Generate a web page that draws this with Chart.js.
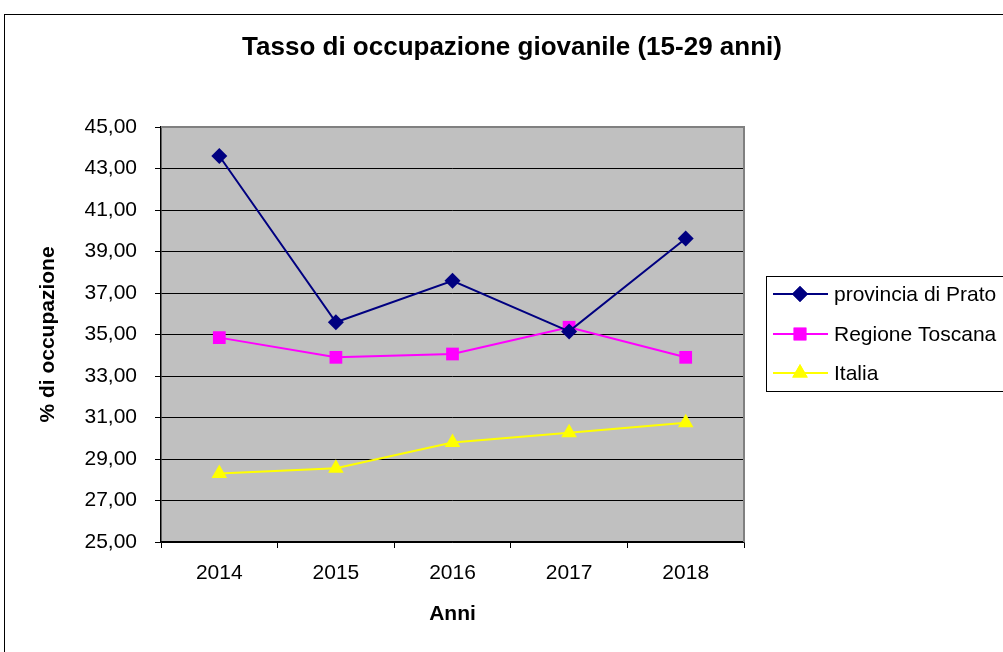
<!DOCTYPE html>
<html>
<head>
<meta charset="utf-8">
<script src="https://cdn.jsdelivr.net/npm/chart.js@4"></script>
<style>
    html, body { margin: 0; padding: 0; background: #fff; }
    #wrap { width: 1003px; height: 652px; position: relative; }
</style>
</head>
<body>
<div id="wrap"><canvas id="chart"></canvas></div>
<script>
// data
const years = ['2014', '2015', '2016', '2017', '2018'];
const prato = [43.60, 35.59, 37.59, 35.15, 39.63];
const toscana = [34.85, 33.90, 34.06, 35.35, 33.90];
const italia = [28.30, 28.55, 29.79, 30.27, 30.75];
const yTicks = [25, 27, 29, 31, 33, 35, 37, 39, 41, 43, 45];

const FONT = '"Liberation Sans", Arial, sans-serif';

const SERIES = [
    { label: 'provincia di Prato', data: prato, color: '#000080', style: 'rectRot', radius: 8 },
    { label: 'Regione Toscana', data: toscana, color: '#ff00ff', style: 'rect', radius: 9 },
    { label: 'Italia', data: italia, color: '#ffff00', style: 'triangle', radius: 9 },
];

// frame, grey plot background, title and the boxed legend
const frame = {
    id: 'frame',
    beforeDraw(chart) {
        const { ctx, chartArea: a } = chart;
        ctx.save();
        ctx.fillStyle = '#ffffff';
        ctx.fillRect(0, 0, chart.width, chart.height);
        ctx.strokeStyle = '#000';
        ctx.lineWidth = 1;
        ctx.strokeRect(4.5, 14.5, 1100, 1000);
        ctx.fillStyle = '#c0c0c0';
        ctx.fillRect(a.left, a.top, a.right - a.left, a.bottom - a.top);
        ctx.restore();
    },
    beforeDatasetsDraw(chart) {
        const { ctx, chartArea: a } = chart;
        ctx.save();
        ctx.strokeStyle = '#808080';
        ctx.lineWidth = 2;
        ctx.beginPath();
        ctx.moveTo(a.left, a.top);
        ctx.lineTo(a.right, a.top);
        ctx.lineTo(a.right, a.bottom);
        ctx.stroke();
        ctx.restore();
    },
    afterDraw(chart) {
        const ctx = chart.ctx;
        ctx.save();
        ctx.fillStyle = '#000';
        ctx.textAlign = 'center';
        ctx.textBaseline = 'middle';
        ctx.font = `bold 26px ${FONT}`;
        ctx.fillText('Tasso di occupazione giovanile (15-29 anni)', 512, 48);

        // legend box
        ctx.strokeStyle = '#000';
        ctx.lineWidth = 1;
        ctx.strokeRect(766.5, 276.5, 300, 115);
        const rows = [294, 334, 373];
        ctx.textAlign = 'left';
        ctx.font = `21px ${FONT}`;
        SERIES.forEach((s, i) => {
            const y = rows[i];
            ctx.strokeStyle = s.color;
            ctx.lineWidth = 2;
            ctx.beginPath();
            ctx.moveTo(773, y);
            ctx.lineTo(828, y);
            ctx.stroke();
            ctx.fillStyle = s.color;
            Chart.helpers.drawPoint(ctx, { pointStyle: s.style, radius: s.radius, rotation: 0, borderWidth: 0 }, 800, y);
            ctx.fill();
            ctx.fillStyle = '#000';
            ctx.fillText(s.label, 834, y + 1);
        });
        ctx.restore();
    }
};

new Chart(document.getElementById('chart'), {
    type: 'line',
    data: {
        labels: years,
        datasets: SERIES.map(s => ({
            label: s.label,
            data: s.data,
            borderColor: s.color,
            backgroundColor: s.color,
            borderWidth: 2,
            pointStyle: s.style,
            pointRadius: s.radius,
            pointBorderWidth: 0,
            pointBackgroundColor: s.color,
            tension: 0,
        }))
    },
    options: {
        responsive: true,
        maintainAspectRatio: false,
        animation: false,
        layout: { padding: { top: 127, right: 259, bottom: 0, left: 0 } },
        plugins: {
            legend: { display: false },
            title: { display: false },
            tooltip: { enabled: false }
        },
        scales: {
            x: {
                offset: true,
                afterFit: (scale) => { scale.height = 110; },
                grid: {
                    offset: true,
                    drawOnChartArea: false,
                    drawTicks: true,
                    tickLength: 6,
                    color: '#000'
                },
                border: { color: '#000', width: 1.5 },
                ticks: {
                    color: '#000',
                    padding: 13,
                    font: { family: FONT, size: 21 }
                },
                title: {
                    display: true,
                    text: 'Anni',
                    color: '#000',
                    padding: { top: 0, bottom: 25 },
                    font: { family: FONT, size: 21, weight: 'bold' }
                }
            },
            y: {
                min: 25,
                max: 45,
                afterFit: (scale) => { scale.width = 161; },
                afterBuildTicks: (scale) => { scale.ticks = yTicks.map(v => ({ value: v })); },
                grid: {
                    color: '#000',
                    lineWidth: 1,
                    tickLength: 6
                },
                border: { color: '#000', width: 1.5 },
                ticks: {
                    color: '#000',
                    padding: 18,
                    font: { family: FONT, size: 21 },
                    callback: (v) => v.toFixed(2).replace('.', ',')
                },
                title: {
                    display: true,
                    text: '% di occupazione',
                    color: '#000',
                    padding: { top: 36, bottom: 0 },
                    font: { family: FONT, size: 21, weight: 'bold' }
                }
            }
        }
    },
    plugins: [frame]
});
</script>
</body>
</html>
